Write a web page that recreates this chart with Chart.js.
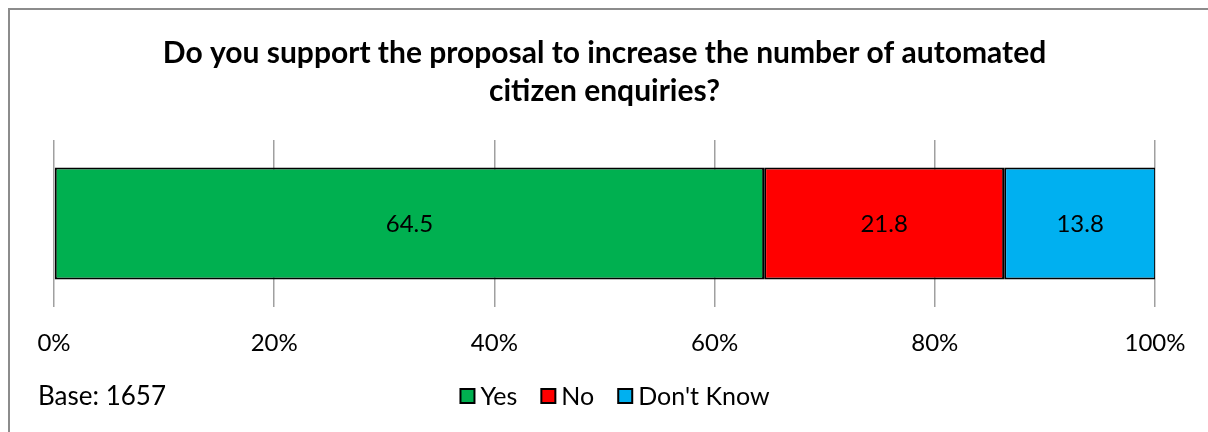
<!DOCTYPE html>
<html>
<head>
<meta charset="utf-8">
<script src="https://cdn.jsdelivr.net/npm/chart.js@4"></script>
<style>
  body { margin: 0; background: #fff; }
  #wrap { width: 1208px; height: 432px; position: relative; }
</style>
</head>
<body>
<div id="wrap"><canvas id="Chart" width="1208" height="432"></canvas></div>
<script>
// chart data
var titleLines = ["Do you support the proposal to increase the number of automated", "citizen enquiries?"];
var categories = ["Support"];
var seriesNames = ["Yes", "No", "Don't Know"];
var seriesValues = [64.5, 21.8, 13.8];
var seriesColors = ["#00B050", "#FF0000", "#00B0F0"];
var tickValues = [0, 20, 40, 60, 80, 100];
var baseNote = "Base: 1657";

var fontFamily = "Lato, 'Open Sans', sans-serif";

var datasets = [];
for (var i = 0; i < seriesNames.length; i++) {
    datasets.push({
        label: seriesNames[i],
        data: [seriesValues[i]],
        backgroundColor: seriesColors[i],
        borderColor: "#000000",
        borderWidth: 2,
        borderSkipped: false,
        barPercentage: 1,
        categoryPercentage: 0.67
    });
}

// grey frame, base note and a legend drawn by hand (tighter than the built-in one)
const framePlugin = {
    id: 'frame',
    beforeDraw(chart) {
        const ctx = chart.ctx;
        ctx.save();
        ctx.fillStyle = '#fff';
        ctx.fillRect(0, 0, chart.width, chart.height);
        ctx.strokeStyle = '#8c8c8c';
        ctx.lineWidth = 2;
        ctx.strokeRect(9, 9, chart.width + 10, chart.height + 10);
        ctx.restore();
    },
    afterDraw(chart) {
        const ctx = chart.ctx;
        ctx.save();
        ctx.fillStyle = '#000';
        ctx.font = '26px ' + fontFamily;
        ctx.textBaseline = 'middle';
        ctx.textAlign = 'left';
        ctx.fillText(baseNote, 38, 397);

        // legend
        ctx.font = '25px ' + fontFamily;
        var box = 14, gapText = 6, gapItem = 24, y = 396;
        var widths = seriesNames.map(function (n) { return ctx.measureText(n).width; });
        var total = 0;
        widths.forEach(function (w) { total += box + gapText + w; });
        total += gapItem * (seriesNames.length - 1);
        var x = 615 - total / 2;
        seriesNames.forEach(function (n, i) {
            ctx.fillStyle = seriesColors[i];
            ctx.fillRect(x, y - box / 2, box, box);
            ctx.strokeStyle = '#000';
            ctx.lineWidth = 2;
            ctx.strokeRect(x, y - box / 2, box, box);
            ctx.fillStyle = '#000';
            ctx.fillText(n, x + box + gapText, y + 1);
            x += box + gapText + widths[i] + gapItem;
        });
        ctx.restore();
    }
};

// value labels in the middle of each segment
const valueLabels = {
    id: 'valueLabels',
    afterDatasetsDraw(chart) {
        const ctx = chart.ctx;
        ctx.save();
        ctx.fillStyle = '#000';
        ctx.font = '24px ' + fontFamily;
        ctx.textAlign = 'center';
        ctx.textBaseline = 'middle';
        chart.data.datasets.forEach(function (ds, i) {
            chart.getDatasetMeta(i).data.forEach(function (bar, j) {
                var mid = (bar.x + bar.base) / 2;
                ctx.fillText(ds.data[j].toFixed(1), mid, bar.y + 1);
            });
        });
        ctx.restore();
    }
};

new Chart("Chart", {
    type: "bar",
    data: { labels: categories, datasets: datasets },
    plugins: [framePlugin, valueLabels],
    options: {
        indexAxis: 'y',
        responsive: false,
        animation: false,
        layout: { padding: { left: 54, right: 53, top: 0, bottom: 52 } },
        scales: {
            x: {
                stacked: true,
                min: 0,
                max: 100,
                border: { display: false },
                grid: { color: '#a0a0a0', lineWidth: 1.5, drawTicks: false },
                afterBuildTicks: function (axis) {
                    axis.ticks = tickValues.map(function (v) { return { value: v }; });
                },
                ticks: {
                    padding: 22,
                    color: '#000',
                    maxRotation: 0,
                    font: { family: fontFamily, size: 24 },
                    callback: function (v) { return v + '%'; }
                }
            },
            y: { stacked: true, display: false }
        },
        plugins: {
            title: {
                display: true,
                text: titleLines,
                color: '#000',
                font: { family: fontFamily, size: 30, weight: 'bold', lineHeight: 1.267 },
                padding: { top: 34, bottom: 30 }
            },
            legend: { display: false },
            tooltip: { enabled: false }
        }
    }
});
</script>
</body>
</html>
